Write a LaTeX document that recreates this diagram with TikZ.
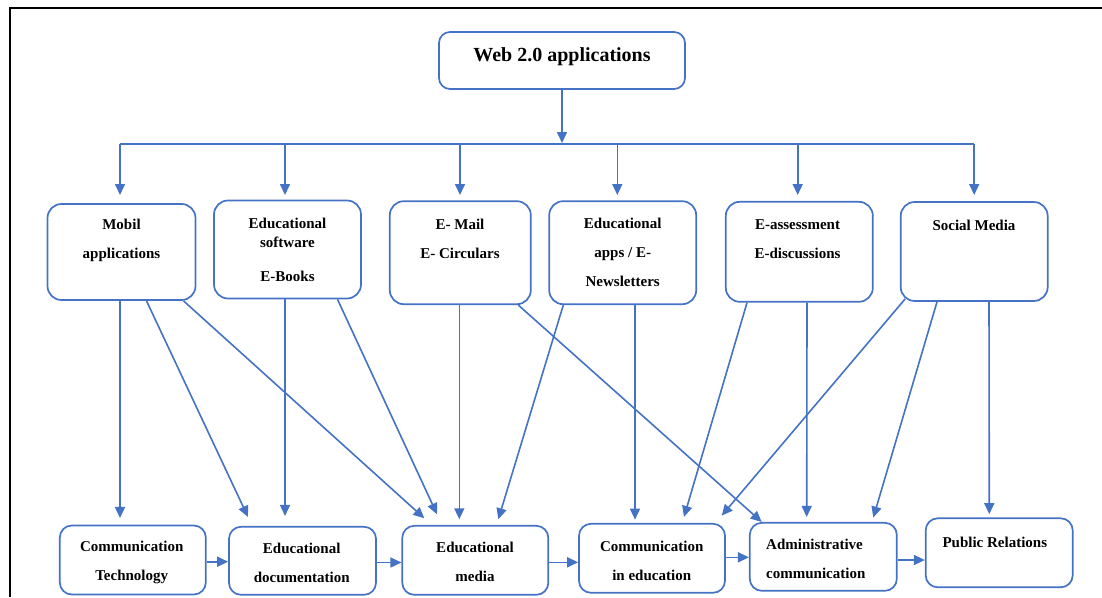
\documentclass[tikz,border=0pt]{standalone}
\usepackage{fontspec}
\setmainfont{Liberation Serif}
\usepackage{tikz}
\usetikzlibrary{arrows.meta, positioning}
\definecolor{boxblue}{HTML}{4472C4}

\begin{document}
\begin{tikzpicture}[x=1pt, y=-1pt]
    \tikzset{box/.style = {shape=rectangle, draw=boxblue, line width=1.7pt, rounded corners=14pt}}
    \tikzset{dims/.style 2 args = {minimum width=#1pt, minimum height=#2pt}}
    \tikzset{txt/.style = {font=\bfseries\fontsize{15}{29}\selectfont, align=center, inner sep=0pt}}
    \tikzset{link/.style = {draw=boxblue, line width=1.6pt}}
    \tikzset{edge/.style = {link, -{Triangle[length=11pt, width=10pt]}}}
    \useasboundingbox (0,0) rectangle (1102,597);
    % frame
    \draw[line width=2.6pt] (10,597) -- (10,8) -- (1102,8);
    % boxes
    \node[box, dims={246}{57}, rounded corners=11pt] (web) at (562,60.5) {};
    \node[box, dims={148}{96}] (mobil) at (121.5,252) {};
    \node[box, dims={147}{98}] (software) at (287.5,249.5) {};
    \node[box, dims={141}{103}] (mail) at (460.3,252.7) {};
    \node[box, dims={147}{103}] (apps) at (622.7,252.7) {};
    \node[box, dims={147}{100}] (assess) at (799.3,251.8) {};
    \node[box, dims={147}{99}] (social) at (974.2,251.5) {};
    \node[box, dims={146}{69}, rounded corners=12pt] (commtech) at (132.8,560) {};
    \node[box, dims={147}{68}, rounded corners=12pt] (edudoc) at (302.5,560.8) {};
    \node[box, dims={146}{69}, rounded corners=12pt] (edumedia) at (475.3,560.3) {};
    \node[box, dims={146}{69}, rounded corners=12pt] (commedu) at (652,558.3) {};
    \node[box, dims={147}{68}, rounded corners=12pt] (admin) at (823.3,556.8) {};
    \node[box, dims={147}{69}, rounded corners=12pt] (pr) at (999.2,552.8) {};
    % texts
    \node[txt, font=\bfseries\fontsize{20}{24}\selectfont] (web-t) at (562,57) {Web 2.0 applications};
    \node[txt] (mobil-t) at (121.5,240.5) {Mobil\\applications};
    \node[txt] (software-t) at (287.5,249.5) {Educational\\[-10pt]software\\[5pt]E-Books};
    \node[txt] (mail-t) at (460,238.5) {E- Mail\\E- Circulars};
    \node[txt] (apps-t) at (622.7,252.5) {Educational\\apps / E-\\Newsletters};
    \node[txt] (assess-t) at (797.5,239) {E-assessment\\E-discussions};
    \node[txt] (social-t) at (974,225) {Social Media};
    \node[txt] (commtech-t) at (131.7,562) {Communication\\Technology};
    \node[txt] (edudoc-t) at (301.7,563) {Educational\\documentation};
    \node[txt] (edumedia-t) at (475,561.5) {Educational\\media};
    \node[txt] (commedu-t) at (651.7,560.5) {Communication\\in education};
    \node[txt, anchor=west, align=left] (admin-t) at (766,559) {Administrative\\communication};
    \node[txt, anchor=west] (pr-t) at (942.3,542) {Public Relations};
    % bus
    \coordinate (bus) at (562,144);
    \coordinate (tip) at (562,195);
    \draw[edge] (web.south) -- ([yshift=1pt]bus);
    \draw[link] ([xshift=-1.5pt]mobil.north |- bus) -- (social.north |- bus);
    \foreach \n/\dx in {mobil/-1.5, software/-2.5, mail/-0.3, apps/-5.4, assess/-1.6, social/0}
        \draw[edge] ([xshift=\dx pt]\n.north |- bus) -- ([xshift=\dx pt]\n.north |- tip);
    % edges
    \draw[edge] ([xshift=-1.5pt]mobil.south) -- ([xshift=-12.8pt, yshift=6.7pt]commtech.north);
    \draw[edge] ([xshift=25pt]mobil.south) -- ([xshift=-54.5pt, yshift=9pt]edudoc.north);
    \draw[edge] ([xshift=62pt]mobil.south) -- ([xshift=-51pt, yshift=6.7pt]edumedia.north);
    \draw[edge] ([xshift=-2.5pt]software.south) -- ([xshift=-17.5pt, yshift=10pt]edudoc.north);
    \draw[edge] ([xshift=50pt]software.south) -- ([xshift=-38.3pt, yshift=10.7pt]edumedia.north);
    \draw[edge] ([xshift=-1pt]mail.south) -- ([xshift=-16pt, yshift=5.7pt]edumedia.north);
    \draw[edge] ([xshift=58pt]mail.south) -- ([xshift=-61.6pt]admin.north);
    \draw[edge] ([xshift=-59.4pt]apps.south) -- ([xshift=23pt, yshift=5.7pt]edumedia.north);
    \draw[edge] ([xshift=12.3pt]apps.south) -- ([xshift=-17pt, yshift=3.3pt]commedu.north);
    \draw[edge] ([xshift=-52.3pt]assess.south) -- ([xshift=32pt, yshift=6pt]commedu.north);
    \draw[edge] ([xshift=7.7pt]assess.south) -- ([xshift=-16.6pt, yshift=5pt]admin.north);
    \draw[edge] ([xshift=-69pt, yshift=3pt]social.south) -- ([xshift=69.7pt, yshift=7.3pt]commedu.north);
    \draw[edge] ([xshift=-37.2pt]social.south) -- ([xshift=50pt, yshift=4.4pt]admin.north);
    \draw[edge] ([xshift=14.8pt]social.south) -- ([xshift=-9.9pt, yshift=3.3pt]pr.north);
    % bottom row
    \draw[edge] ([yshift=-1.7pt]commtech.east) -- ([yshift=-1.7pt]commtech.east -| edudoc.west);
    \draw[edge] ([yshift=-1.7pt]edudoc.east) -- ([yshift=-1.7pt]edudoc.east -| edumedia.west);
    \draw[edge] ([yshift=-2pt]edumedia.east) -- ([yshift=-2pt]edumedia.east -| commedu.west);
    \draw[edge] ([yshift=1pt]commedu.east) -- ([yshift=1pt]commedu.east -| admin.west);
    \draw[edge] ([yshift=-3.2pt]admin.east) -- ([yshift=-3.2pt]admin.east -| pr.west);
\end{tikzpicture}
\end{document}
